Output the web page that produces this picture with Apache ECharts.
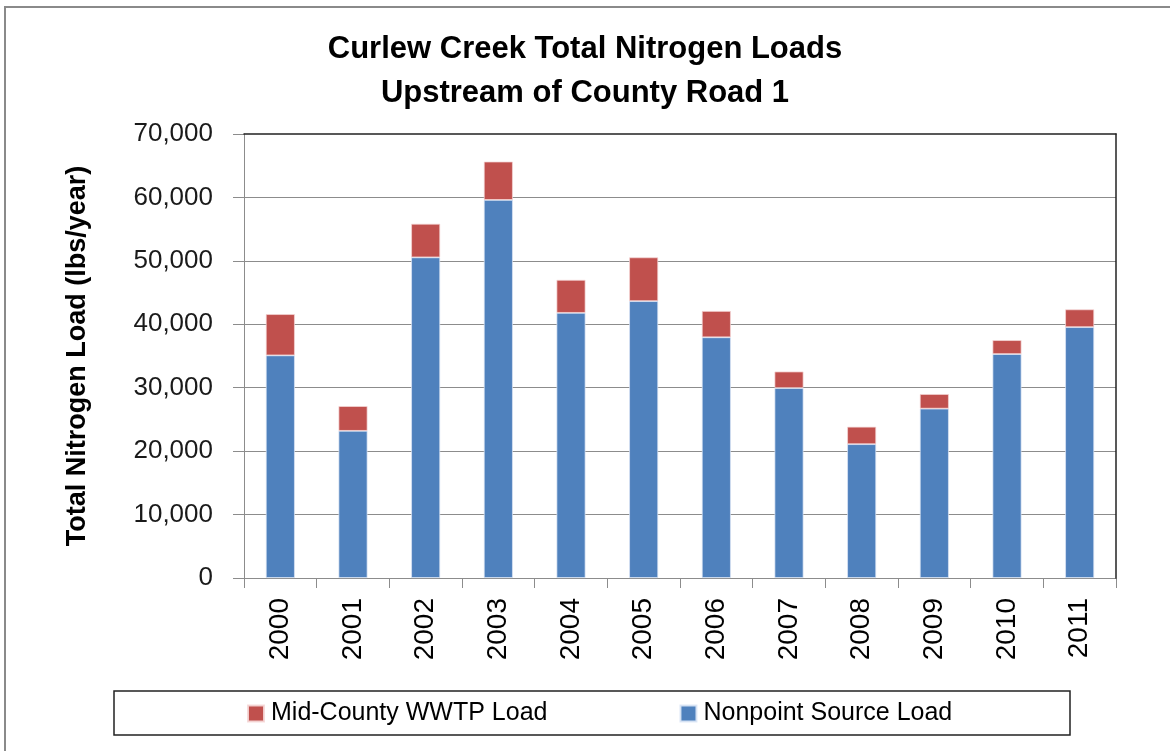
<!DOCTYPE html>
<html>
<head>
<meta charset="utf-8">
<script src="https://cdn.jsdelivr.net/npm/echarts@6/dist/echarts.min.js"></script>
<style>
html,body{margin:0;padding:0;background:#fff;}
#chart{width:1170px;height:751px;}
</style>
</head>
<body>
<div id="chart"></div>
<script>
var years = ['2000','2001','2002','2003','2004','2005','2006','2007','2008','2009','2010','2011'];
var nonpointLoad = [35100, 23200, 50550, 59600, 41800, 43650, 37950, 29950, 21100, 26700, 35300, 39550];
var wwtpLoad     = [6500, 3900, 5300, 6050, 5200, 6900, 4150, 2600, 2750, 2300, 2200, 2800];
var yMin = 0, yMax = 70000, yStep = 10000;
var seriesNames = ['Mid-County WWTP Load', 'Nonpoint Source Load'];
var titleText = 'Curlew Creek Total Nitrogen Loads\nUpstream of County Road 1';
var yAxisTitle = 'Total Nitrogen Load (lbs/year)';

var FONT = '"Liberation Sans", Arial, sans-serif';
var chart = echarts.init(document.getElementById('chart'), null, {renderer:'canvas'});
var fmt = function(v){ return Number(v).toLocaleString('en-US'); };

chart.setOption({
  animation: false,
  backgroundColor: '#ffffff',
  title: {
    text: titleText,
    left: 'center',
    top: 27,
    padding: 0,
    textStyle: { fontFamily: FONT, fontSize: 31, fontWeight: 'bold', color: '#000', lineHeight: 44 }
  },
  graphic: [
    { type:'rect', silent:true, z:-1, shape:{x:5, y:7, width:1180, height:760},
      style:{ fill:'none', stroke:'#8a8a8a', lineWidth:2 } },
    { type:'rect', silent:true, shape:{x:114, y:691, width:956, height:44},
      style:{ fill:'#fff', stroke:'#222', lineWidth:1.5 } }
  ],
  legend: {
    data: seriesNames,
    left: 247,
    top: 701,
    icon: 'rect',
    itemWidth: 16,
    itemHeight: 16,
    itemGap: 132,
    padding: 0,
    z: 10,
    textStyle: { fontFamily: FONT, fontSize: 25, color: '#000', padding:[0,0,0,2] }
  },
  grid: { left: 244, right: 54, top: 134, bottom: 173, containLabel: false },
  xAxis: [{
    type: 'category',
    data: years,
    axisLine: { show: true, lineStyle: { color: '#8c8c8c', width: 1 } },
    axisTick: { show: true, length: 10, lineStyle: { color: '#8c8c8c' } },
    axisLabel: { rotate: 90, margin: 20, fontFamily: FONT, fontSize: 28, color: '#000', interval: 0 }
  },{
    type: 'category',
    data: years,
    position: 'top',
    z: 5,
    axisLine: { show: true, onZero: false, lineStyle: { color: '#222', width: 1.5 } },
    axisTick: { show: false },
    axisLabel: { show: false }
  }],
  yAxis: [{
    type: 'value',
    min: yMin, max: yMax, interval: yStep,
    name: yAxisTitle,
    nameLocation: 'middle',
    nameGap: 153,
    nameTextStyle: { fontFamily: FONT, fontSize: 27, fontWeight: 'bold', color: '#000' },
    axisLine: { show: true, lineStyle: { color: '#8c8c8c', width: 1 } },
    axisTick: { show: true, length: 11, lineStyle: { color: '#8c8c8c' } },
    axisLabel: { margin: 31, fontFamily: FONT, fontSize: 26, color: '#1a1a1a', formatter: fmt },
    splitLine: { show: true, showMaxLine: false, lineStyle: { color: '#8c8c8c', width: 1 } }
  },{
    type: 'value',
    min: yMin, max: yMax, interval: yStep,
    position: 'right',
    z: 5,
    axisLine: { show: true, onZero: false, lineStyle: { color: '#222', width: 1.5 } },
    axisTick: { show: false },
    axisLabel: { show: false },
    splitLine: { show: false }
  }],
  series: [{
    name: seriesNames[1],
    type: 'bar',
    stack: 'total',
    data: nonpointLoad,
    barWidth: 29,
    itemStyle: { color: '#4F81BD', borderColor: 'rgba(220,230,245,0.9)', borderWidth: 0.8 }
  },{
    name: seriesNames[0],
    type: 'bar',
    stack: 'total',
    data: wwtpLoad,
    barWidth: 29,
    itemStyle: { color: '#C0504D', borderColor: 'rgba(245,215,215,0.9)', borderWidth: 0.8 }
  }]
});
</script>
</body>
</html>
